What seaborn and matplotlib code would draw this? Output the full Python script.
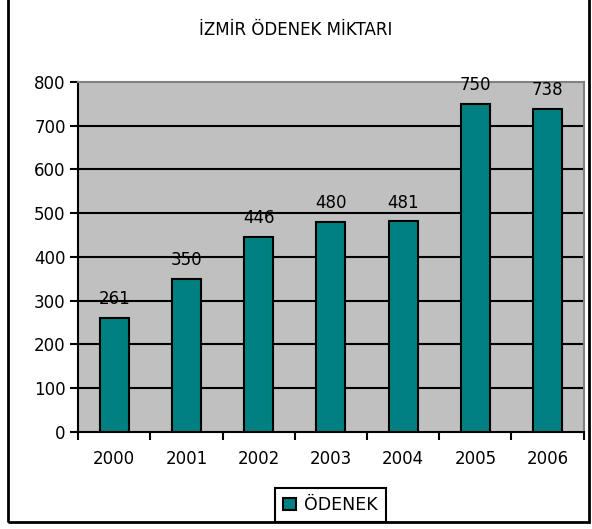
import matplotlib
matplotlib.use("Agg")
import matplotlib.pyplot as plt
import numpy as np
import pandas as pd
import seaborn as sns
from matplotlib.patches import Rectangle

years = ["2000", "2001", "2002", "2003", "2004", "2005", "2006"]
odenek = [261, 350, 446, 480, 481, 750, 738]
title = "İZMİR ÖDENEK MİKTARI"
series_name = "ÖDENEK"

BAR_COLOR = "#008080"
PLOT_BG = "#C0C0C0"
FS = 12

sns.set_theme(style="white")
plt.rcParams["font.family"] = ["DejaVu Sans"]
plt.rcParams["text.color"] = "black"
plt.rcParams["xtick.labelcolor"] = "black"
plt.rcParams["ytick.labelcolor"] = "black"

df = pd.DataFrame({"year": years, "value": odenek, "series": series_name})

fig = plt.figure(figsize=(5.92, 5.29), dpi=100)
ax = fig.add_axes([0.132, 0.1834, 0.854, 0.662])
ax.set_facecolor(PLOT_BG)

sns.barplot(data=df, x="year", y="value", hue="series", palette=[BAR_COLOR],
            width=0.4, edgecolor="black", linewidth=1.5, saturation=1, ax=ax,
            legend=False, zorder=3)

for i, v in enumerate(odenek):
    ax.annotate(str(v), (i, v), xytext=(0, 7), textcoords="offset points",
                ha="center", va="bottom", fontsize=FS, color="black")

ax.set_ylim(0, 800)
ax.set_xlim(-0.5, len(years) - 0.5)
ax.set_yticks(range(0, 801, 100))
ax.set_yticklabels([str(t) for t in range(0, 801, 100)], fontsize=FS)
ax.set_xticks(range(len(years)))
ax.set_xticklabels(years, fontsize=FS)
ax.set_xlabel("")
ax.set_ylabel("")

# gridlines
for y in range(100, 800, 100):
    ax.axhline(y, color="black", linewidth=1.5, zorder=1)

# category separators as x ticks
ax.set_xticks(np.arange(-0.5, len(years), 1), minor=True)
ax.tick_params(axis="x", which="major", length=0, pad=13)
ax.tick_params(axis="x", which="minor", length=6, width=1.5, color="black", direction="out", bottom=True)
ax.tick_params(axis="y", length=6, width=1.5, color="black", direction="out", left=True, pad=3)

for side in ["left", "bottom"]:
    ax.spines[side].set_color("black")
    ax.spines[side].set_linewidth(1.5)
for side in ["top", "right"]:
    ax.spines[side].set_color("#808080")
    ax.spines[side].set_linewidth(1.5)

fig.text(0.5, 0.943, title, ha="center", va="center", fontsize=FS, color="black")

handle = Rectangle((0, 0), 1, 1, facecolor=BAR_COLOR, edgecolor="black", linewidth=1.5)
leg = fig.legend([handle], [series_name], loc="center", bbox_to_anchor=(0.558, 0.045),
                 frameon=True, fancybox=False, edgecolor="black", fontsize=12.5,
                 handlelength=0.75, handleheight=0.75, handletextpad=0.5,
                 borderpad=0.45, borderaxespad=0, framealpha=1)
leg.get_frame().set_linewidth(1.5)

# outer chart frame
fig.patches.append(Rectangle((8 / 592, 7 / 529), 581 / 592, 530 / 529,
                             transform=fig.transFigure, fill=False,
                             edgecolor="black", linewidth=2, zorder=10))

fig.savefig("out.png", dpi=100)
